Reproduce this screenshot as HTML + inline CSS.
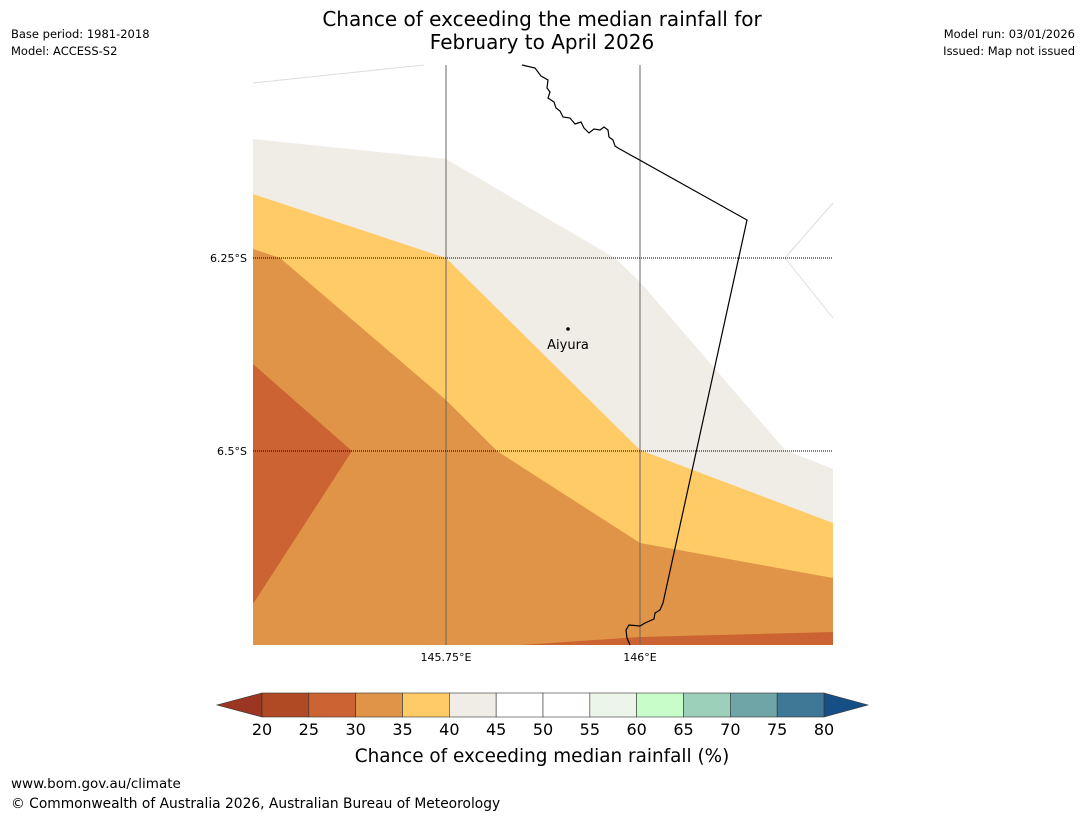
<!DOCTYPE html>
<html><head><meta charset="utf-8"><style>
body{margin:0;background:#fff;font-family:"Liberation Sans","DejaVu Sans",sans-serif;}
svg text{font-family:"DejaVu Sans","Liberation Sans",sans-serif;}
</style></head><body>
<svg width="1085" height="816" viewBox="0 0 1085 816">
<text x="542" y="26" font-size="20" text-anchor="middle">Chance of exceeding the median rainfall for</text>
<text x="542" y="49" font-size="20" text-anchor="middle">February to April 2026</text>
<text x="11" y="38" font-size="11.5">Base period: 1981-2018</text>
<text x="11" y="55" font-size="11.5">Model: ACCESS-S2</text>
<text x="1075" y="38" font-size="11.5" text-anchor="end">Model run: 03/01/2026</text>
<text x="1075" y="55" font-size="11.5" text-anchor="end">Issued: Map not issued</text>
<g>
<polygon fill="#f0ece6" points="253,139 446,159 615,258 640,282 785,450 833,469 833,645 253,645"/>
<polygon fill="#fecb67" points="253,194 446,258 640,450 833,523 833,645 253,645"/>
<polygon fill="#e09447" points="253,249 280,258 446,400 497,451 640,543 833,578 833,645 253,645"/>
<polygon fill="#cb6432" points="253,364 352,451 253,604"/>
<polygon fill="#cb6432" points="520,645 640,637 833,632 833,645"/>
<line x1="253" y1="83" x2="424" y2="65" stroke="#ddd" stroke-width="1"/>
<line x1="785" y1="258" x2="833" y2="203" stroke="#ddd" stroke-width="1"/>
<line x1="785" y1="258" x2="833" y2="318" stroke="#ddd" stroke-width="1"/>
<line x1="446" y1="65" x2="446" y2="645" stroke="#666" stroke-width="1"/>
<line x1="640" y1="65" x2="640" y2="645" stroke="#666" stroke-width="1"/>
<line x1="253" y1="258" x2="833" y2="258" stroke="#000" stroke-width="1" stroke-dasharray="1,1"/>
<line x1="253" y1="451" x2="833" y2="451" stroke="#000" stroke-width="1" stroke-dasharray="1,1"/>
<polyline fill="none" stroke="#000" stroke-width="1.2" points="522,65 535,68 541,76 548,80 547,88 550,92 548,98 554,102 556,108 560,111 563,117 570,118 575,124 581,122 584,128 589,133 594,129 600,130 604,127 608,130 609,137 613,140 615,146 618,148 747,220 663,603 660,610 655,613 654,619 645,623 640,626 629,625 626,630 627,638 630,645"/>
<circle cx="568" cy="329" r="1.8" fill="#000"/>
<text x="568" y="349" font-size="13" text-anchor="middle">Aiyura</text>
</g>
<text x="247" y="262" font-size="11" text-anchor="end">6.25°S</text>
<text x="247" y="455" font-size="11" text-anchor="end">6.5°S</text>
<text x="446" y="661" font-size="11" text-anchor="middle">145.75°E</text>
<text x="640" y="661" font-size="11" text-anchor="middle">146°E</text>
<g id="cbar"></g>
<text x="542" y="762" font-size="18.4" text-anchor="middle">Chance of exceeding median rainfall (%)</text>
<text x="11" y="788" font-size="13.5">www.bom.gov.au/climate</text>
<text x="11" y="808" font-size="13.8">© Commonwealth of Australia 2026, Australian Bureau of Meteorology</text>
</svg>
<script>
const ticks=[20,25,30,35,40,45,50,55,60,65,70,75,80];
const colors=["#b04a25","#cb6432","#e09447","#fecb67","#f0ece6","#ffffff","#ffffff","#ebf5e9","#c8fcc8","#9cd0bb","#70a5a8","#3f7797"];
const underColor="#9a3622", overColor="#164f85";
const NS="http://www.w3.org/2000/svg";
const g=document.getElementById('cbar');
const x0=262,x1=824,y0=693,y1=717;
const sx=v=>x0+(v-ticks[0])/(ticks[ticks.length-1]-ticks[0])*(x1-x0);
function mk(t,a){const e=document.createElementNS(NS,t);for(const k in a)e.setAttribute(k,a[k]);g.appendChild(e);return e;}
let tri=mk('polygon',{points:`${x0},${y0} ${x0},${y1} 217,705`,fill:underColor,stroke:'#333','stroke-width':0.6});


let tri2=mk('polygon',{points:`${x1},${y0} ${x1},${y1} 868,705`,fill:overColor,stroke:'#333','stroke-width':0.6});


colors.forEach((c,i)=>{
 const r=mk('rect',{x:sx(ticks[i]),y:y0,width:sx(ticks[i+1])-sx(ticks[i]),height:y1-y0,fill:c,stroke:'#333','stroke-width':0.6});
 
 
});
ticks.forEach(v=>{
 const t=mk('text',{x:sx(v),y:735,'font-size':16,'text-anchor':'middle'});
 t.textContent=v;
 
 
});
</script>
</body></html>
